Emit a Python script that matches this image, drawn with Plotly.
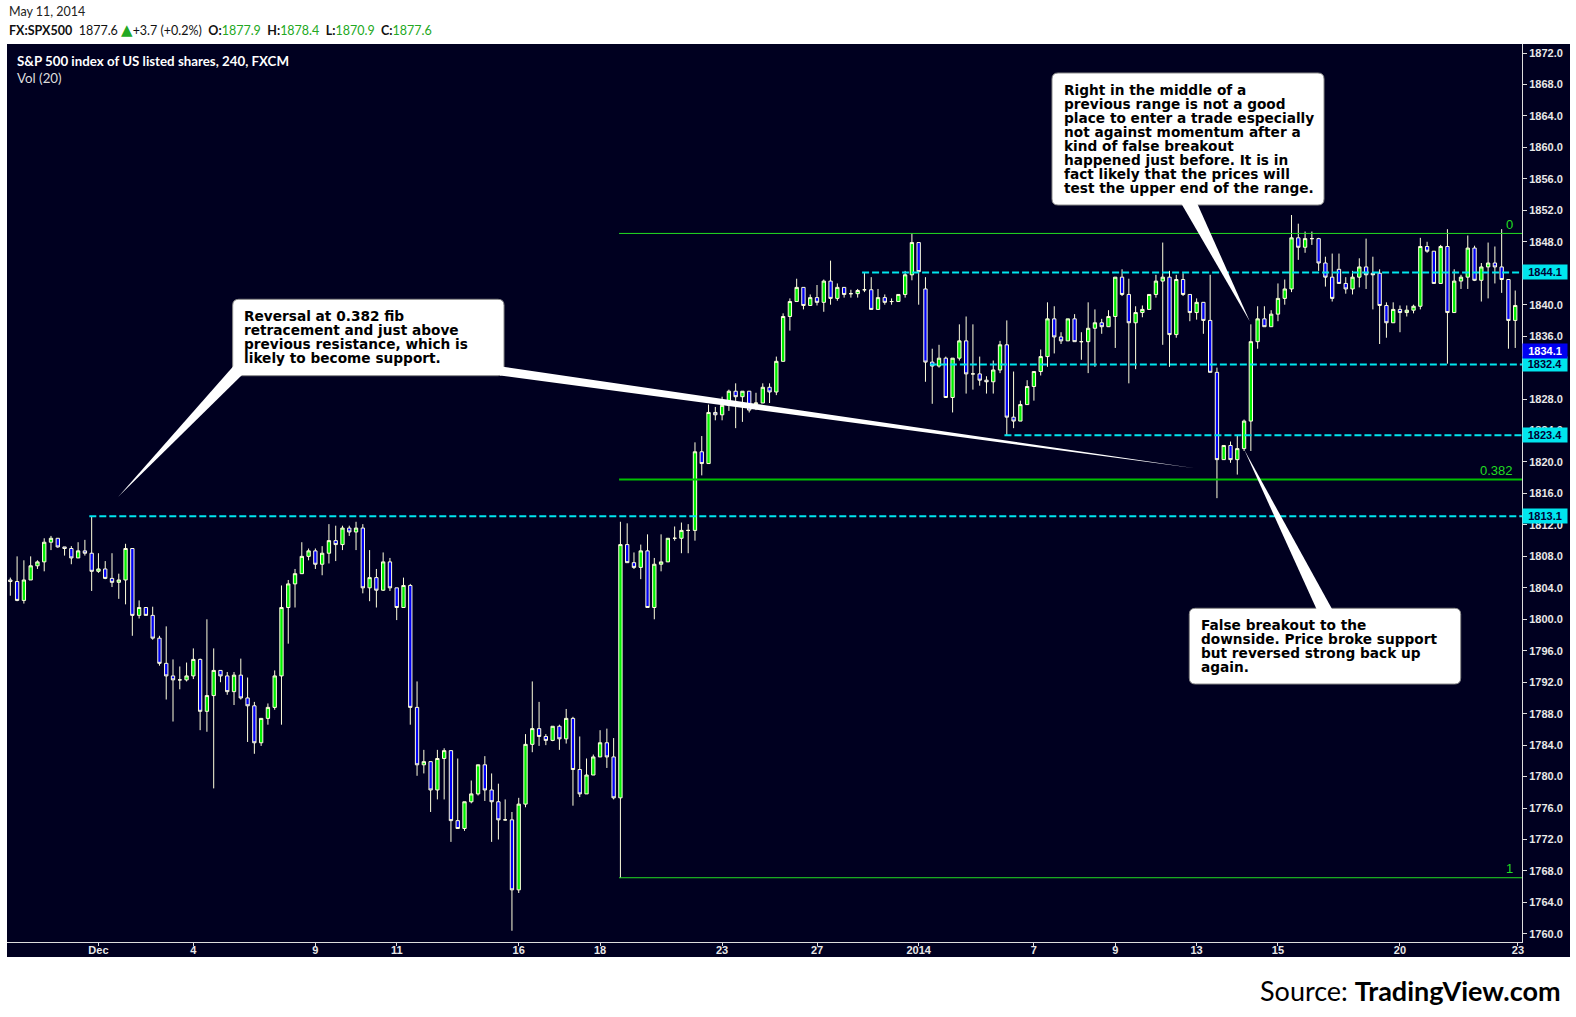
import plotly.graph_objects as go

# ---- data (4h candles, FX:SPX500) ----
opens = [
    1805.0, 1804.8, 1802.4, 1805.0, 1806.8, 1807.3, 1809.8, 1810.3, 1809.2, 1809.0,
    1807.8, 1808.7, 1808.4, 1806.1, 1806.4, 1805.2, 1804.7, 1805.0, 1809.0, 1800.5,
    1801.5, 1800.5, 1797.6, 1794.4, 1792.8, 1792.3, 1792.3, 1792.8, 1794.9, 1788.3,
    1790.3, 1793.5, 1792.8, 1790.8, 1792.9, 1790.0, 1789.0, 1784.3, 1787.4, 1788.8,
    1792.8, 1801.5, 1804.5, 1805.8, 1808.0, 1808.7, 1807.0, 1808.4, 1810.0, 1809.5,
    1811.6, 1811.1, 1811.6, 1804.0, 1805.3, 1803.7, 1807.3, 1804.0, 1801.5, 1804.3,
    1788.8, 1781.5, 1781.9, 1778.3, 1782.3, 1783.3, 1774.4, 1773.4, 1776.8, 1777.8,
    1781.5, 1778.3, 1776.8, 1774.5, 1774.5, 1765.6, 1776.5, 1784.1, 1786.1, 1785.1,
    1784.6, 1786.4, 1784.8, 1787.4, 1780.9, 1777.8, 1780.2, 1782.5, 1784.3, 1782.5,
    1777.3, 1809.5, 1807.2, 1806.6, 1808.7, 1801.5, 1807.0, 1807.3, 1810.3, 1810.3,
    1811.3, 1811.3, 1821.3, 1819.8, 1826.3, 1826.0, 1827.2, 1829.0, 1828.3, 1829.0,
    1827.4, 1827.5, 1829.5, 1828.9, 1832.8, 1838.5, 1840.4, 1842.2, 1839.9, 1840.9,
    1840.3, 1843.0, 1840.8, 1842.2, 1841.4, 1841.4, 1841.9, 1841.9, 1839.4, 1840.9,
    1840.4, 1840.4, 1841.3, 1843.8, 1847.9, 1842.0, 1832.7, 1832.2, 1833.2, 1828.2,
    1833.2, 1835.4, 1831.2, 1831.2, 1830.4, 1830.2, 1831.7, 1834.9, 1825.7, 1825.2,
    1827.3, 1829.6, 1831.5, 1833.4, 1838.2, 1835.9, 1835.4, 1838.2, 1835.3, 1835.3,
    1837.0, 1837.7, 1837.2, 1838.5, 1843.5, 1841.3, 1837.7, 1839.0, 1839.4, 1841.3,
    1843.0, 1843.5, 1836.2, 1843.2, 1841.3, 1839.0, 1840.3, 1838.0, 1831.4, 1820.3,
    1822.1, 1820.3, 1821.7, 1825.2, 1835.3, 1838.2, 1837.2, 1838.8, 1840.8, 1842.0,
    1848.5, 1847.3, 1848.4, 1848.4, 1845.3, 1843.5, 1844.5, 1842.7, 1842.0, 1843.5,
    1844.8, 1844.0, 1844.0, 1839.9, 1837.7, 1839.4, 1839.0, 1839.3, 1839.8, 1847.4,
    1846.8, 1842.7, 1847.4, 1839.0, 1843.0, 1843.5, 1847.2, 1843.1, 1844.8, 1845.3,
    1844.8, 1843.2, 1838.0,
]
highs = [
    1805.3, 1808.0, 1807.5, 1808.0, 1807.5, 1810.3, 1810.6, 1810.3, 1809.2, 1809.3,
    1809.8, 1810.1, 1813.1, 1808.4, 1807.4, 1808.4, 1805.8, 1809.6, 1809.0, 1802.4,
    1801.5, 1801.6, 1797.9, 1799.1, 1794.9, 1794.0, 1794.5, 1796.3, 1795.0, 1800.0,
    1796.3, 1793.5, 1793.3, 1793.3, 1795.0, 1792.6, 1789.5, 1787.4, 1789.3, 1793.5,
    1804.3, 1805.0, 1806.4, 1809.8, 1809.0, 1809.0, 1809.3, 1812.1, 1811.9, 1811.9,
    1811.9, 1812.4, 1812.1, 1808.8, 1806.4, 1808.5, 1807.8, 1804.0, 1805.3, 1804.5,
    1792.1, 1783.4, 1781.9, 1783.4, 1783.6, 1783.3, 1782.3, 1776.8, 1779.5, 1781.5,
    1782.6, 1780.4, 1779.1, 1777.1, 1775.5, 1777.3, 1785.4, 1792.1, 1789.5, 1785.4,
    1786.4, 1786.6, 1788.6, 1787.6, 1785.1, 1782.3, 1782.8, 1785.9, 1786.1, 1784.9,
    1812.4, 1812.2, 1808.5, 1809.5, 1810.8, 1807.8, 1810.8, 1810.3, 1811.8, 1812.3,
    1812.1, 1822.5, 1823.3, 1827.3, 1827.0, 1828.3, 1829.2, 1830.0, 1829.0, 1829.0,
    1828.8, 1830.0, 1830.0, 1833.4, 1838.9, 1840.8, 1843.3, 1842.2, 1841.3, 1842.5,
    1843.2, 1845.6, 1842.7, 1842.2, 1841.9, 1842.0, 1844.1, 1843.5, 1842.0, 1841.3,
    1840.8, 1841.3, 1844.3, 1849.1, 1847.9, 1843.5, 1834.4, 1834.9, 1833.4, 1833.2,
    1837.5, 1838.5, 1837.5, 1833.4, 1830.9, 1832.9, 1835.4, 1838.0, 1831.5, 1827.8,
    1830.4, 1831.5, 1834.3, 1840.3, 1839.8, 1836.5, 1838.2, 1838.8, 1836.5, 1840.3,
    1839.4, 1838.2, 1839.3, 1843.5, 1844.5, 1843.3, 1839.8, 1839.9, 1841.3, 1843.8,
    1847.9, 1844.3, 1843.8, 1844.0, 1841.3, 1840.8, 1840.3, 1843.8, 1832.0, 1822.1,
    1822.6, 1823.4, 1825.4, 1837.5, 1839.8, 1839.8, 1839.3, 1842.7, 1843.2, 1851.4,
    1850.3, 1849.3, 1849.3, 1848.5, 1846.1, 1846.5, 1846.5, 1843.5, 1844.3, 1845.9,
    1848.4, 1846.1, 1844.5, 1840.3, 1840.3, 1839.9, 1839.9, 1840.0, 1848.5, 1848.0,
    1846.8, 1847.6, 1849.6, 1844.5, 1843.8, 1848.8, 1847.5, 1845.3, 1847.9, 1847.4,
    1849.6, 1843.2, 1841.8,
]
lows = [
    1803.0, 1802.3, 1802.0, 1805.0, 1806.4, 1806.1, 1808.8, 1809.1, 1808.1, 1807.0,
    1807.8, 1808.1, 1803.6, 1805.9, 1805.1, 1804.1, 1802.6, 1801.9, 1797.9, 1800.1,
    1800.5, 1797.4, 1794.1, 1789.8, 1787.0, 1791.1, 1792.1, 1792.4, 1785.9, 1785.7,
    1778.5, 1792.0, 1790.4, 1789.1, 1789.8, 1784.4, 1782.9, 1783.9, 1786.6, 1788.5,
    1786.6, 1796.9, 1801.5, 1805.8, 1807.5, 1806.4, 1805.6, 1807.1, 1807.4, 1808.8,
    1810.6, 1808.8, 1803.3, 1802.3, 1801.5, 1803.6, 1803.6, 1799.9, 1801.5, 1786.6,
    1780.1, 1780.4, 1775.5, 1777.1, 1777.1, 1771.7, 1773.4, 1773.1, 1776.6, 1777.6,
    1776.9, 1771.7, 1772.0, 1774.4, 1760.4, 1765.2, 1776.1, 1783.1, 1783.9, 1784.0,
    1784.5, 1783.4, 1784.2, 1776.3, 1777.4, 1777.8, 1780.2, 1782.5, 1781.1, 1777.1,
    1767.1, 1807.2, 1806.4, 1805.1, 1801.5, 1800.0, 1806.1, 1807.3, 1810.0, 1808.4,
    1808.4, 1810.0, 1818.3, 1819.8, 1825.3, 1825.3, 1826.5, 1824.3, 1825.1, 1826.3,
    1826.6, 1827.5, 1827.5, 1828.5, 1832.8, 1836.7, 1840.4, 1839.4, 1839.9, 1839.9,
    1839.1, 1840.0, 1840.5, 1840.9, 1840.9, 1840.9, 1841.6, 1839.4, 1839.4, 1840.0,
    1840.0, 1840.4, 1840.9, 1843.1, 1840.0, 1830.2, 1827.4, 1832.0, 1828.2, 1826.3,
    1832.9, 1828.7, 1829.2, 1829.7, 1828.7, 1828.7, 1831.3, 1823.4, 1824.3, 1825.2,
    1827.3, 1827.8, 1831.0, 1832.1, 1833.8, 1835.0, 1835.4, 1835.3, 1833.0, 1831.3,
    1832.1, 1836.3, 1837.2, 1834.5, 1841.1, 1830.0, 1831.8, 1838.4, 1839.4, 1840.9,
    1834.9, 1832.1, 1835.8, 1841.1, 1837.9, 1838.1, 1836.3, 1831.4, 1815.4, 1820.3,
    1819.9, 1818.4, 1821.4, 1821.4, 1834.4, 1837.2, 1837.2, 1837.9, 1840.0, 1841.6,
    1845.7, 1846.6, 1847.6, 1844.3, 1842.3, 1840.4, 1842.7, 1841.4, 1841.3, 1842.2,
    1842.0, 1839.4, 1835.0, 1835.8, 1837.7, 1836.5, 1838.5, 1838.9, 1839.4, 1846.6,
    1842.7, 1842.7, 1832.5, 1839.0, 1842.0, 1842.0, 1843.0, 1840.4, 1840.8, 1842.7,
    1841.5, 1834.4, 1834.5,
]
closes = [
    1804.8, 1802.4, 1805.0, 1806.8, 1807.3, 1809.8, 1810.3, 1809.2, 1809.0, 1807.8,
    1808.7, 1808.4, 1806.1, 1806.4, 1805.2, 1804.7, 1805.0, 1809.0, 1800.5, 1801.5,
    1800.5, 1797.6, 1794.4, 1792.8, 1792.3, 1792.3, 1792.8, 1794.9, 1788.3, 1790.3,
    1793.5, 1792.8, 1790.8, 1792.9, 1790.0, 1789.0, 1784.3, 1787.4, 1788.8, 1792.8,
    1801.5, 1804.5, 1805.8, 1808.0, 1808.7, 1807.0, 1808.4, 1810.0, 1809.5, 1811.6,
    1811.1, 1811.6, 1804.0, 1805.3, 1803.7, 1807.3, 1804.0, 1801.5, 1804.3, 1788.8,
    1781.5, 1781.9, 1778.3, 1782.3, 1783.3, 1774.4, 1773.4, 1776.8, 1777.8, 1781.5,
    1778.3, 1776.8, 1774.5, 1774.5, 1765.6, 1776.5, 1784.1, 1786.1, 1785.1, 1784.6,
    1786.4, 1784.8, 1787.4, 1780.9, 1777.8, 1780.2, 1782.5, 1784.3, 1782.5, 1777.3,
    1809.5, 1807.2, 1806.6, 1808.7, 1801.5, 1807.0, 1807.3, 1810.3, 1810.3, 1811.3,
    1811.3, 1821.3, 1819.8, 1826.3, 1826.0, 1827.2, 1829.0, 1828.3, 1829.0, 1826.6,
    1827.5, 1829.5, 1828.9, 1832.8, 1838.5, 1840.4, 1842.2, 1839.9, 1840.9, 1840.3,
    1843.0, 1840.8, 1842.2, 1841.3, 1841.4, 1841.8, 1841.9, 1839.4, 1840.9, 1840.3,
    1840.4, 1841.3, 1843.8, 1847.9, 1844.2, 1832.7, 1832.2, 1833.2, 1828.2, 1833.2,
    1835.4, 1831.2, 1831.2, 1830.4, 1830.2, 1831.7, 1834.9, 1825.7, 1825.2, 1827.3,
    1829.6, 1831.5, 1833.4, 1838.2, 1835.9, 1835.4, 1838.2, 1835.3, 1835.3, 1837.0,
    1837.7, 1837.2, 1838.5, 1843.5, 1841.3, 1837.7, 1839.0, 1839.4, 1841.3, 1843.0,
    1843.5, 1836.2, 1843.2, 1841.3, 1839.0, 1840.3, 1838.0, 1831.4, 1820.3, 1822.1,
    1820.3, 1821.7, 1825.2, 1835.3, 1838.2, 1837.2, 1838.8, 1840.8, 1842.0, 1848.5,
    1847.3, 1848.4, 1848.4, 1845.3, 1843.5, 1840.8, 1842.7, 1842.0, 1843.5, 1844.8,
    1843.8, 1843.8, 1839.9, 1837.7, 1839.4, 1839.0, 1839.3, 1839.8, 1847.4, 1846.8,
    1842.7, 1847.4, 1839.0, 1843.0, 1843.5, 1847.2, 1843.1, 1844.8, 1845.3, 1844.8,
    1843.2, 1838.0, 1839.9,
]
bars = list(range(1, len(closes) + 1))

# date labels sit on the first bar of the day
tick_bars = [14, 28, 46, 58, 76, 88, 106, 120, 135, 152, 164, 176, 188, 206, 223.4]
tick_text = ['Dec', '4', '9', '11', '16', '18', '23', '27', '2014', '7', '9', '13', '15', '20', '23']
price_ticks = list(range(1760, 1873, 4))

# support / resistance lines and the bar each one was drawn from
sr_levels = [1813.1, 1844.1, 1832.4, 1823.4]
sr_start_bar = [13, 127, 137, 148]
last_price = 1834.1

# fib retracement drawn from the Dec 18 low to the range top
fib_high = 1849.06
fib_low = 1767.14
fib_start_bar = 91
fib_ratios = [0, 0.382, 1]

notes = {
    'reversal': ['Reversal at 0.382 fib', 'retracement and just above',
                 'previous resistance, which is', 'likely to become support.'],
    'middle': ['Right in the middle of a', 'previous range is not a good',
               'place to enter a trade especially', 'not against momentum after a',
               'kind of false breakout', 'happened just before. It is in',
               'fact likely that the prices will', 'test the upper end of the range.'],
    'false': ['False breakout to the', 'downside. Price broke support',
              'but reversed strong back up', 'again.'],
}

# ---- styling ----
W, H = 1576, 1017
PL, PR, PT, PB = 7, 1522, 44, 942          # plot area in page pixels
BG = '#000020'
CYAN = '#00E5EE'
FIB_GREEN = '#22DD22'
UP_GREEN = '#22A822'
TICK_FONT = dict(family='Liberation Sans', size=11, color='#E8E8E8', weight='bold')
X_END = 224.0


def px(x):
    return (x - PL) / (PR - PL)


def py(y):
    return (PB - y) / (PB - PT)


def box_path(x0, y0, x1, y1, r=6):
    rx, ry = r / (PR - PL), r / (PB - PT)
    X0, X1, Y0, Y1 = px(x0), px(x1), py(y0), py(y1)
    return (f'M{X0 + rx},{Y0} L{X1 - rx},{Y0} Q{X1},{Y0} {X1},{Y0 - ry} '
            f'L{X1},{Y1 + ry} Q{X1},{Y1} {X1 - rx},{Y1} L{X0 + rx},{Y1} '
            f'Q{X0},{Y1} {X0},{Y1 + ry} L{X0},{Y0 - ry} Q{X0},{Y0} {X0 + rx},{Y0} Z')


def poly_path(pts):
    return 'M' + ' L'.join(f'{px(a)},{py(b)}' for a, b in pts) + ' Z'


fig = go.Figure(go.Candlestick(
    x=bars, open=opens, high=highs, low=lows, close=closes,
    increasing=dict(fillcolor='#00F000', line=dict(color='#FFFFDD', width=1)),
    decreasing=dict(fillcolor='#0000F5', line=dict(color='#FFFFDD', width=1)),
    whiskerwidth=0, hoverinfo='skip', showlegend=False,
))

shapes = [dict(type='rect', xref='paper', yref='paper', layer='below',
               x0=px(7), x1=px(1570), y0=py(44), y1=py(957),
               fillcolor=BG, line=dict(width=0))]
annos = []

# fib lines
for r in fib_ratios:
    lvl = fib_high - r * (fib_high - fib_low)
    thick = r not in (0, 1)
    shapes.append(dict(type='line', xref='x', yref='y', x0=fib_start_bar - 0.2, x1=X_END,
                       y0=lvl, y1=lvl,
                       line=dict(color='#00C000' if thick else FIB_GREEN, width=2 if thick else 1)))
    annos.append(dict(xref='paper', yref='y', x=px(1515), y=lvl, yshift=9,
                      xanchor='right', yanchor='middle', showarrow=False, text=f'{r:g}',
                      font=dict(family='Liberation Sans', size=13, color=FIB_GREEN)))

# dashed support / resistance
for lvl, b in zip(sr_levels, sr_start_bar):
    shapes.append(dict(type='line', xref='x', yref='y', x0=b - 0.35, x1=X_END, y0=lvl, y1=lvl,
                       line=dict(color=CYAN, width=2, dash='7px,3px')))
    annos.append(dict(xref='paper', yref='y', x=1.0, y=lvl, xanchor='left', yanchor='middle',
                      showarrow=False, text=f'{lvl:.1f}', bgcolor=CYAN, width=44, height=14,
                      borderpad=0, font=dict(family='Liberation Sans', size=11,
                                             color='#000033', weight='bold')))
annos.append(dict(xref='paper', yref='y', x=1.0, y=last_price, xanchor='left', yanchor='middle',
                  showarrow=False, text=f'{last_price:.1f}', bgcolor='#0000F0', width=44,
                  height=14, borderpad=0,
                  font=dict(family='Liberation Sans', size=11, color='white', weight='bold')))

# callouts: box, tails, text lines
callouts = [
    ('reversal', (232.7, 299.3, 504, 375.7),
     [[(233.5, 366), (242, 375), (118.3, 496.7)],
      [(498, 366), (500, 375.5), (1195, 468.3)]]),
    ('middle', (1052, 73, 1324, 205),
     [[(1181, 203), (1197, 203), (1250, 321.7)]]),
    ('false', (1189.3, 608.3, 1460.7, 684),
     [[(1316.7, 609.5), (1332.3, 609.5), (1244, 449.3)]]),
]
for key, (x0, y0, x1, y1), tails in callouts:
    shapes.append(dict(type='path', xref='paper', yref='paper', path=box_path(x0, y0, x1, y1),
                       fillcolor='white', line=dict(color='#8A8A8A', width=1)))
    for t in tails:
        shapes.append(dict(type='path', xref='paper', yref='paper', path=poly_path(t),
                           fillcolor='white', line=dict(width=0)))
    for i, line in enumerate(notes[key]):
        annos.append(dict(xref='paper', yref='paper', x=px(x0 + 9.5), y=py(y0 + 16.7 + 14.1 * i),
                          xanchor='left', yanchor='middle', showarrow=False, text=f'<b>{line}</b>',
                          font=dict(family='DejaVu Sans', size=13.7, color='black')))

# header and titles
annos += [
    dict(xref='paper', yref='paper', x=px(7), y=py(12), xanchor='left', yanchor='middle',
         showarrow=False, text='May 11, 2014',
         font=dict(family='Lato', size=12.5, color='#222222')),
    dict(xref='paper', yref='paper', x=px(7), y=py(29.5), xanchor='left', yanchor='middle',
         showarrow=False,
         text=(f"<b>FX:SPX500</b>  1877.6 "
               f"<span style='color:{UP_GREEN};font-family:DejaVu Sans;font-size:15px'>▲</span>"
               f"+3.7 (+0.2%)  "
               f"<b>O:</b><span style='color:{UP_GREEN}'>1877.9</span>  "
               f"<b>H:</b><span style='color:{UP_GREEN}'>1878.4</span>  "
               f"<b>L:</b><span style='color:{UP_GREEN}'>1870.9</span>  "
               f"<b>C:</b><span style='color:{UP_GREEN}'>1877.6</span>"),
         font=dict(family='Lato', size=12.5, color='#111111')),
    dict(xref='paper', yref='paper', x=px(14.5), y=py(60.5), xanchor='left', yanchor='middle',
         showarrow=False, text='<b>S&amp;P 500 index of US listed shares, 240, FXCM</b>',
         font=dict(family='Lato', size=13.3, color='white')),
    dict(xref='paper', yref='paper', x=px(14.5), y=py(77.5), xanchor='left', yanchor='middle',
         showarrow=False, text='Vol (20)',
         font=dict(family='Lato', size=13.3, color='#DDDDDD')),
    dict(xref='paper', yref='paper', x=px(1563), y=py(990), xanchor='right', yanchor='middle',
         showarrow=False, text='Source: <b>TradingView.com</b>',
         font=dict(family='Lato', size=27, color='black')),
]

fig.update_layout(
    width=W, height=H,
    margin=dict(l=PL, r=W - PR, t=PT, b=H - PB, pad=0),
    paper_bgcolor='white', plot_bgcolor=BG,
    shapes=shapes, annotations=annos,
    xaxis=dict(range=[0.51, X_END], rangeslider=dict(visible=False),
               tickmode='array', tickvals=tick_bars, ticktext=tick_text,
               showgrid=False, zeroline=False, showline=True, linecolor='#DDDDDD', linewidth=1,
               ticks='outside', ticklen=3, tickcolor='#DDDDDD', tickfont=TICK_FONT,
               ticklabelstandoff=-5),
    yaxis=dict(side='right', range=[1758.97, 1873.145],
               tickmode='array', tickvals=price_ticks, ticktext=[f'{v:.1f}' for v in price_ticks],
               showgrid=False, zeroline=False, showline=True, linecolor='#DDDDDD', linewidth=1,
               ticks='outside', ticklen=4, tickcolor='#DDDDDD', tickfont=TICK_FONT),
)

fig.write_html('out.html', config={'displayModeBar': False},
               post_script="document.body.style.margin='0px';")
